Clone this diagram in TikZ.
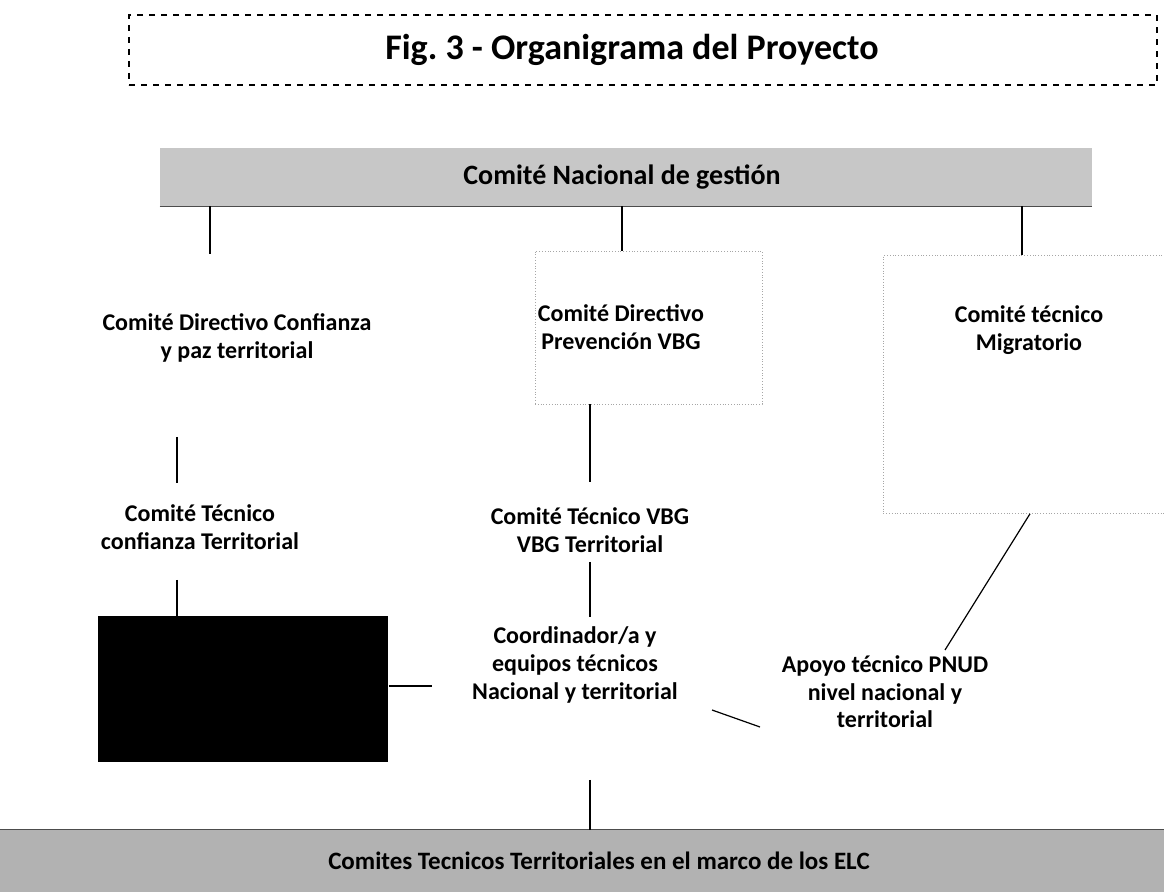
\documentclass[tikz,border=0pt]{standalone}
\usepackage{fontspec}
\setmainfont{Carlito}
\begin{document}
\begin{tikzpicture}[x=0.5pt,y=-0.5pt,
    lbl/.style={font=\fontsize{12}{13.8}\selectfont\bfseries,align=center,inner sep=0pt},
    bar/.style={fill=black!22,draw=none,inner sep=0pt},
    faint/.style={draw=black!35,densely dotted,line width=0.4pt,inner sep=0pt}]
  \useasboundingbox (0,0) rectangle (1164,892);
  % title and bars
  \node[draw,dashed,line width=0.6pt,minimum width=514pt,minimum height=35pt] (title) at (643,50) {};
  \node[font=\fontsize{18}{21}\selectfont\bfseries] (titletext) at (632,50) {Fig.\ 3 - Organigrama del Proyecto};
  \node[bar,minimum width=466pt,minimum height=29pt] (nac) at (626,177) {};
  \node[font=\fontsize{14}{16}\selectfont\bfseries] (nactext) at (622,177) {Comité Nacional de gestión};
  \draw[black!70,line width=0.8pt] (nac.south west) -- (nac.south east);
  \node[bar,fill=black!30,minimum width=582pt,minimum height=31pt] (elc) at (582,861) {};
  \node[font=\fontsize{12.5}{15}\selectfont\bfseries] (elctext) at (599,861) {Comites Tecnicos Territoriales en el marco de los ELC};
  \draw[black!70,line width=0.8pt] (elc.north west) -- (elc.north east);
  % boxes
  \node[faint,minimum width=113.5pt,minimum height=76.5pt] (vbgbox) at (648.5,327.5) {};
  \node[faint,minimum width=141pt,minimum height=129pt,anchor=north west] (migbox) at (883,255) {};
  \node[fill=black,minimum width=145pt,minimum height=73pt,anchor=north west,inner sep=0pt] (coordbox) at (98,616) {};
  % labels
  \node[lbl] (dirpaz) at (237,338) {Comité Directivo Confianza\\y paz territorial};
  \node[lbl] (dirvbg) at (621,327) {Comité Directivo\\Prevención VBG};
  \node[lbl] (mig) at (1029,330) {Comité técnico\\Migratorio};
  \node[lbl] (tecconf) at (200,527) {Comité Técnico\\confianza Territorial};
  \node[lbl] (tecvbg) at (590,530) {Comité Técnico VBG\\VBG Territorial};
  \node[lbl] (equipos) at (575,665) {Coordinador/a y\\equipos técnicos\\Nacional y territorial};
  \node[lbl] (pnud) at (885,692) {Apoyo técnico PNUD\\nivel nacional y\\territorial};
  % free ends
  \coordinate (c1) at (210,254);
  \coordinate (c2) at (622,251);
  \coordinate (c3) at (1022,255);
  \coordinate (l1) at (177,437);
  \coordinate (l2) at (177,483);
  \coordinate (l3) at (177,580);
  \coordinate (m1) at (590,482);
  \coordinate (m2) at (590,562);
  \coordinate (m3) at (590,617);
  \coordinate (h1) at (432,686);
  \coordinate (d1) at (712,710);
  \coordinate (d2) at (760,727);
  \coordinate (r1) at (1030,513);
  \coordinate (r2) at (945,650);
  \coordinate (b1) at (590,780);
  \begin{scope}[line width=0.6pt]
    \draw (nac.south -| c1) to (c1);
    \draw (nac.south -| c2) to (c2);
    \draw (nac.south -| c3) to (c3);
    \draw (l1) to (l2);
    \draw (l3) to (coordbox.north -| l3);
    \draw (vbgbox.south -| m1) to (m1);
    \draw (m2) to (m3);
    \draw (coordbox.east |- h1) to (h1);
    \draw (d1) to (d2);
    \draw (migbox.south -| r1) to (r2);
    \draw (b1) to (elc.north -| b1);
  \end{scope}
\end{tikzpicture}
\end{document}
